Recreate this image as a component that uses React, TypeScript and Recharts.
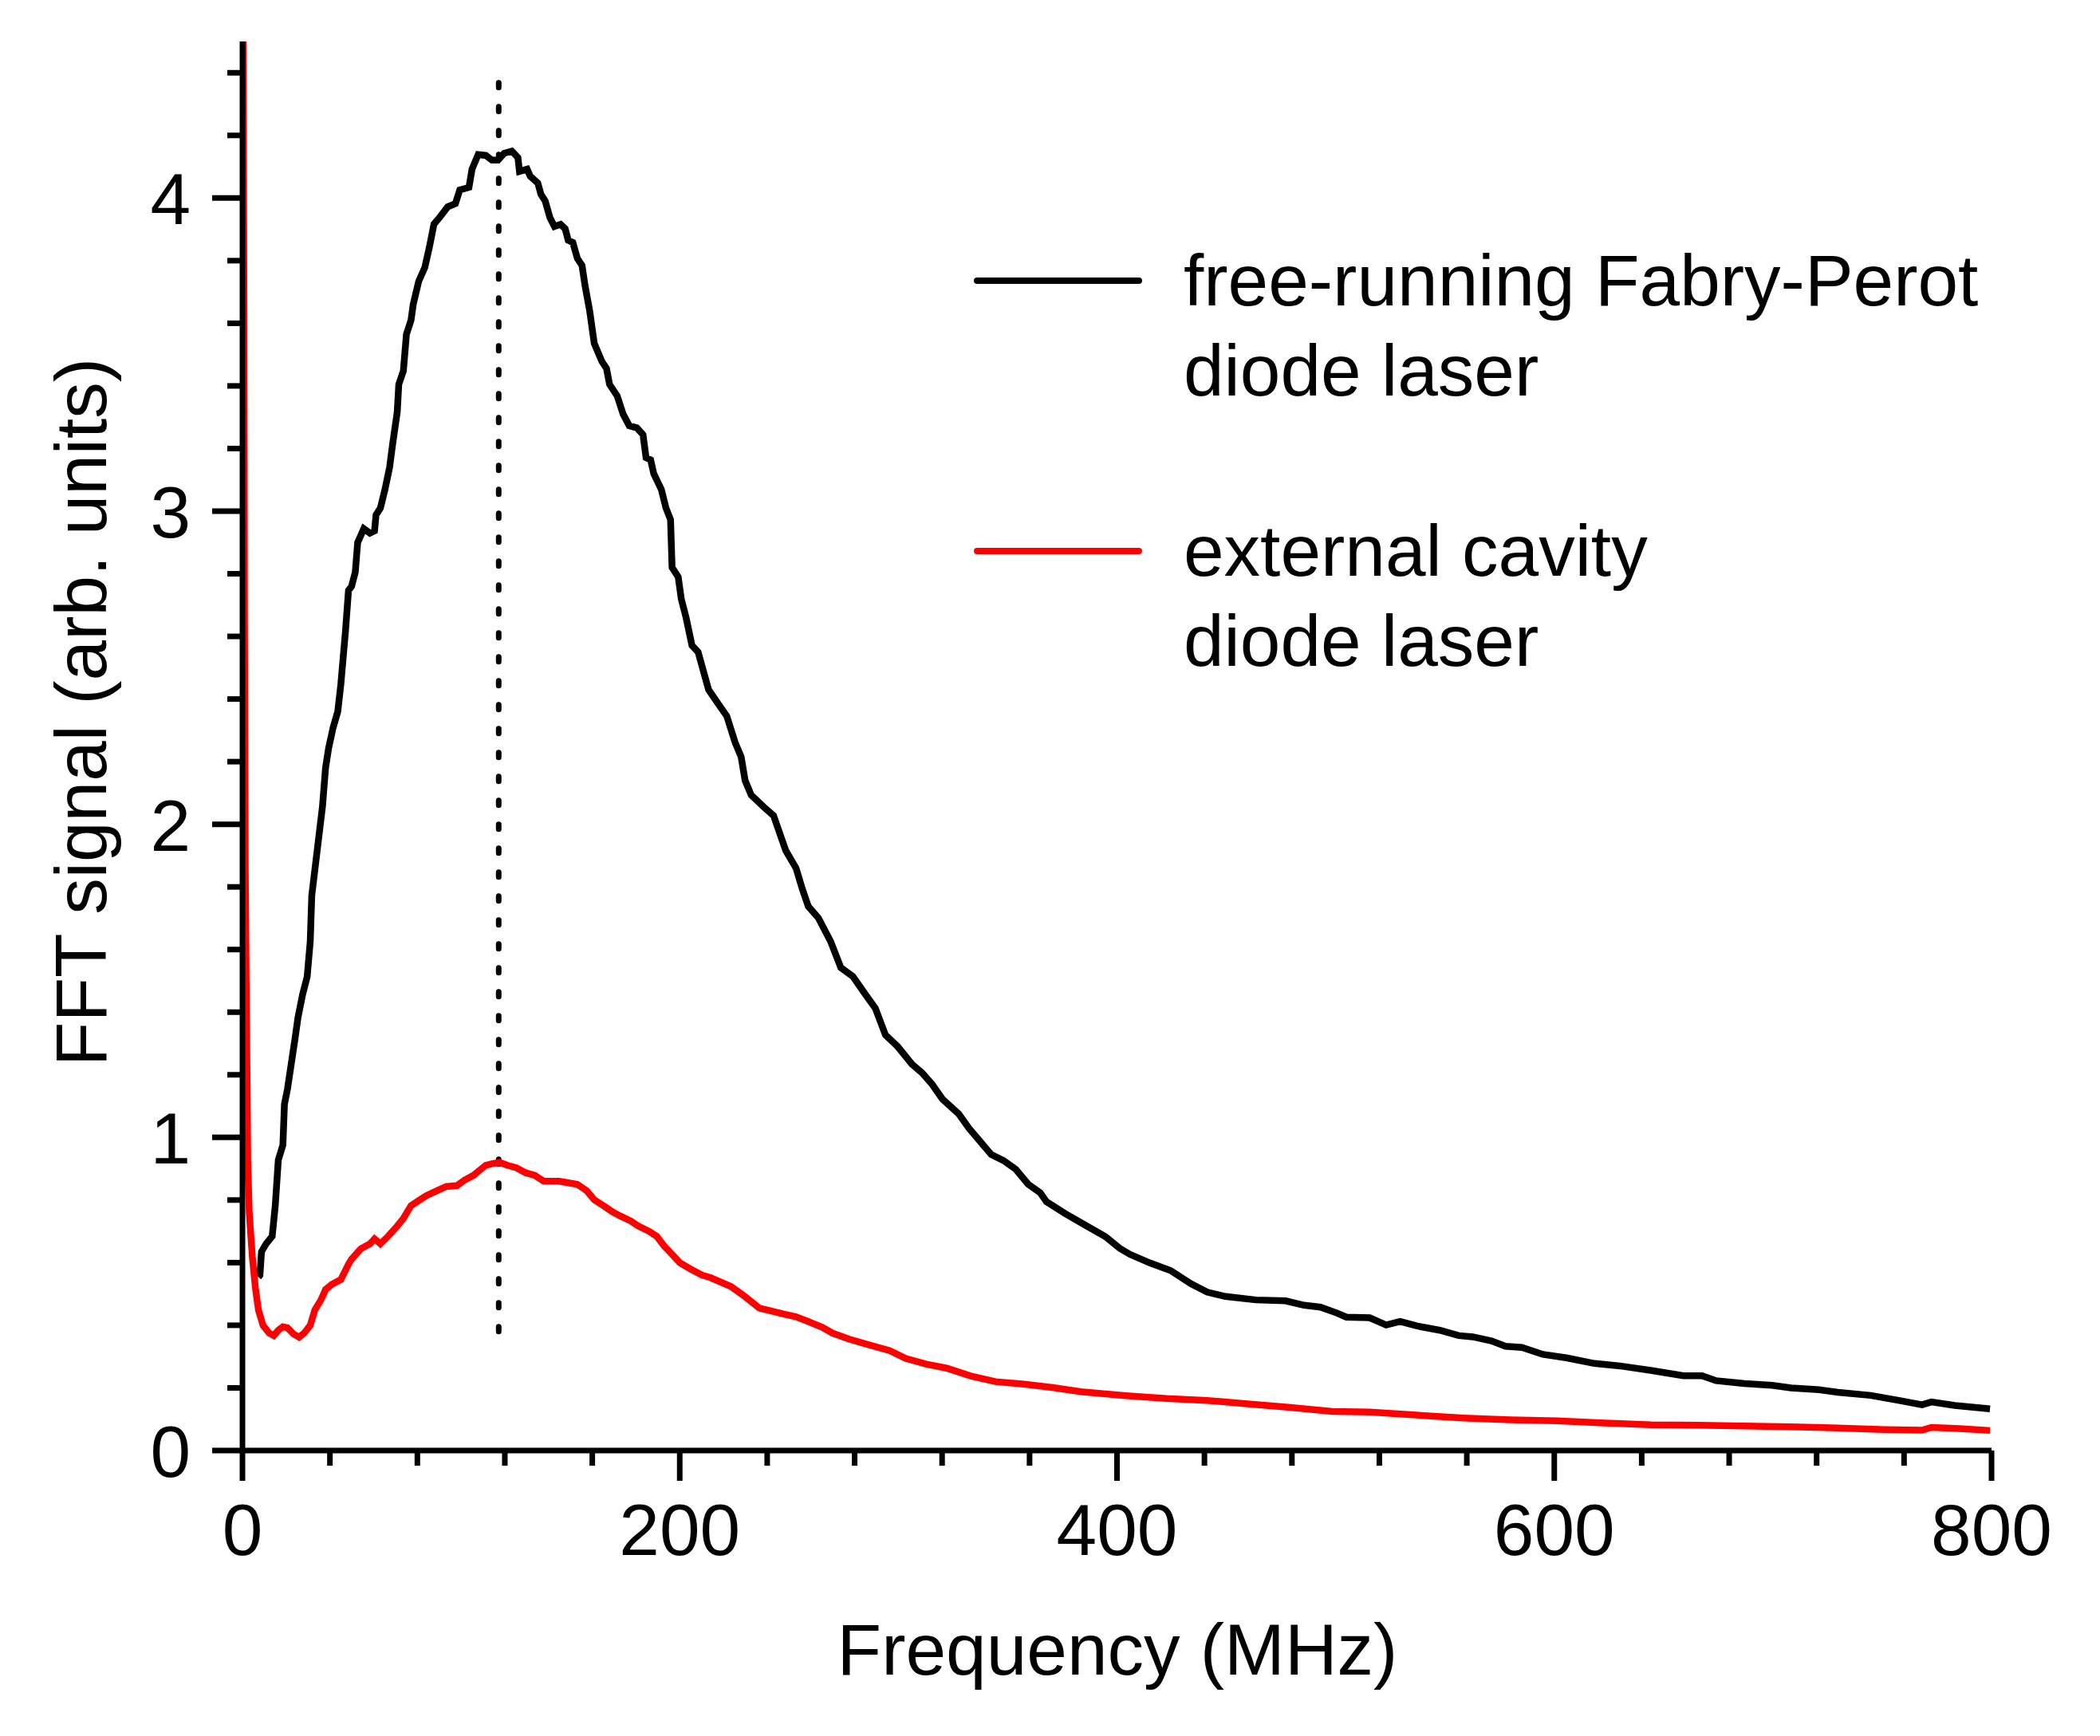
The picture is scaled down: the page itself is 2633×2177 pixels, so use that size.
import React from 'react';
import { LineChart, Line, XAxis, YAxis, ReferenceLine, Legend } from 'recharts';

// Free-running Fabry-Perot diode laser (black)
const freqFP = [
  7.3, 8.0, 8.7, 10.8, 13.6, 15.0, 16.4, 18.5, 19.2, 20.6, 22.0, 24.1, 25.4, 27.5, 29.6, 31.0, 31.7, 33.1, 34.5, 36.6,
  38.0, 39.4, 41.5, 43.6, 45.0, 47.1, 48.5, 49.9, 51.6, 52.7, 55.5, 58.3, 60.4, 61.1, 63.1, 65.2, 67.3, 68.7, 70.8, 71.5,
  73.6, 75.0, 77.1, 78.1, 80.6, 83.4, 85.5, 87.6, 90.4, 93.9, 97.4, 99.4, 103.6, 105.0, 107.8, 111.3, 114.1, 116.9, 119.7, 123.2,
  126.0, 126.7, 130.2, 131.6, 135.1, 136.5, 138.5, 140.6, 142.7, 145.5, 147.6, 149.0, 151.1, 153.2, 155.3, 156.7, 158.8, 160.9, 164.4, 166.5,
  167.9, 171.4, 174.1, 176.9, 180.4, 183.2, 184.6, 186.7, 188.1, 191.6, 193.7, 195.8, 196.5, 199.3, 200.7, 202.9, 205.6, 208.4, 213.2, 217.8,
  221.5, 225.3, 228.1, 229.9, 232.7, 238.3, 242.9, 245.7, 248.5, 253.2, 256.0, 258.8, 263.4, 269.0, 273.7, 279.2, 284.8, 289.5, 294.1, 299.7,
  306.2, 310.9, 315.5, 320.2, 327.6, 332.3, 336.9, 342.5, 348.1, 353.7, 359.3, 364.9, 367.7, 376.0, 385.4, 394.7, 401.2, 405.8, 415.1, 424.5,
  433.8, 441.2, 449.6, 463.5, 477.1, 485.6, 493.1, 500.6, 504.9, 515.6, 523.1, 529.5, 537.0, 547.7, 556.3, 562.7, 571.3, 577.7, 585.2, 594.8,
  605.5, 618.4, 631.2, 644.1, 659.1, 667.6, 674.0, 686.9, 699.7, 708.3, 721.1, 729.7, 744.7, 757.5, 768.2, 772.5, 783.2, 799.3,
];
const signalFP = [
  0.554, 0.56, 0.635, 0.66, 0.684, 0.782, 0.928, 0.976, 1.106, 1.155, 1.22, 1.318, 1.383, 1.456, 1.513, 1.626, 1.772, 1.854, 1.935, 2.057,
  2.18, 2.243, 2.31, 2.36, 2.447, 2.615, 2.747, 2.76, 2.805, 2.9, 2.944, 2.93, 2.937, 2.988, 3.01, 3.07, 3.14, 3.215, 3.317, 3.405,
  3.448, 3.565, 3.61, 3.66, 3.734, 3.778, 3.843, 3.917, 3.94, 3.972, 3.982, 4.026, 4.034, 4.092, 4.139, 4.136, 4.121, 4.121, 4.143, 4.15,
  4.129, 4.085, 4.092, 4.07, 4.048, 4.012, 3.99, 3.938, 3.909, 3.916, 3.902, 3.865, 3.858, 3.807, 3.785, 3.72, 3.64, 3.536, 3.478, 3.456,
  3.405, 3.368, 3.31, 3.273, 3.266, 3.244, 3.171, 3.164, 3.12, 3.069, 3.01, 2.973, 2.82, 2.79, 2.72, 2.66, 2.571, 2.55, 2.43, 2.383,
  2.346, 2.262, 2.215, 2.14, 2.093, 2.056, 2.028, 1.972, 1.916, 1.86, 1.795, 1.738, 1.701, 1.626, 1.542, 1.514, 1.458, 1.412, 1.327, 1.29,
  1.234, 1.206, 1.169, 1.122, 1.075, 1.029, 0.991, 0.945, 0.926, 0.898, 0.851, 0.823, 0.795, 0.758, 0.72, 0.683, 0.646, 0.627, 0.599, 0.575,
  0.533, 0.506, 0.492, 0.481, 0.478, 0.464, 0.458, 0.439, 0.426, 0.424, 0.401, 0.412, 0.398, 0.384, 0.367, 0.363, 0.35, 0.333, 0.329, 0.307,
  0.296, 0.278, 0.269, 0.256, 0.239, 0.239, 0.223, 0.214, 0.208, 0.2, 0.194, 0.186, 0.176, 0.16, 0.146, 0.155, 0.144, 0.133,
];

// External cavity diode laser (red)
const freqECDL = [
  0.3, 0.7, 0.9, 1.3, 1.7, 2.1, 2.4, 3.1, 4.5, 5.9, 7.3, 9.4, 12.2, 14.3, 16.4, 18.5, 20.6, 23.4, 25.9, 28.2,
  31.0, 33.1, 35.9, 38.0, 40.8, 45.0, 48.5, 49.9, 54.1, 58.3, 60.4, 63.1, 66.6, 70.8, 73.6, 77.1, 80.6, 84.1, 89.0, 93.2,
  98.1, 101.5, 105.7, 108.5, 111.3, 114.1, 117.6, 121.1, 125.3, 129.5, 133.7, 137.8, 144.8, 149.0, 153.2, 157.4, 160.9, 165.1, 169.3, 172.8,
  177.6, 181.1, 186.0, 189.5, 193.0, 196.5, 200.0, 204.8, 210.2, 214.1, 223.4, 229.0, 236.4, 247.6, 253.2, 258.8, 265.3, 269.9, 277.4, 286.7,
  296.0, 303.4, 312.7, 322.1, 333.2, 344.4, 357.4, 370.5, 383.5, 404.0, 422.6, 441.2, 459.8, 478.4, 498.5, 515.6, 532.7, 558.4, 579.8, 601.3,
  622.7, 644.1, 665.5, 686.9, 708.3, 729.7, 751.1, 768.2, 772.5, 785.4, 799.3,
];
const signalECDL = [
  4.5, 3.6, 2.7, 1.85, 1.5, 1.2, 0.93, 0.76, 0.62, 0.52, 0.449, 0.4, 0.375, 0.367, 0.384, 0.395, 0.392, 0.372, 0.362, 0.375,
  0.4, 0.449, 0.481, 0.514, 0.53, 0.546, 0.595, 0.611, 0.644, 0.66, 0.676, 0.66, 0.684, 0.717, 0.741, 0.782, 0.798, 0.814, 0.83, 0.843,
  0.846, 0.863, 0.879, 0.895, 0.911, 0.916, 0.92, 0.911, 0.903, 0.887, 0.879, 0.86, 0.86, 0.855, 0.85, 0.83, 0.801, 0.782, 0.762, 0.749,
  0.733, 0.717, 0.7, 0.684, 0.652, 0.627, 0.6, 0.58, 0.56, 0.552, 0.524, 0.496, 0.455, 0.436, 0.427, 0.412, 0.393, 0.375, 0.356, 0.337,
  0.319, 0.294, 0.276, 0.263, 0.238, 0.22, 0.212, 0.201, 0.188, 0.175, 0.166, 0.16, 0.149, 0.138, 0.125, 0.123, 0.115, 0.104, 0.098, 0.095,
  0.088, 0.082, 0.081, 0.078, 0.076, 0.072, 0.067, 0.065, 0.074, 0.07, 0.064,
];

const xTicks = [0, 40, 80, 120, 160, 200, 240, 280, 320, 360, 400, 440, 480, 520, 560, 600, 640, 680, 720, 760, 800];
const xMajorTicks = [0, 200, 400, 600, 800];
const yTicks = [0, 0.2, 0.4, 0.6, 0.8, 1, 1.2, 1.4, 1.6, 1.8, 2, 2.2, 2.4, 2.6, 2.8, 3, 3.2, 3.4, 3.6, 3.8, 4, 4.2, 4.4];
const yMajorTicks = [0, 1, 2, 3, 4];
const xDomain = [0, 800];
const yDomain = [0, 4.5];

const peakFrequency = 117.2;
const peakMarkerRange = [0.38, 4.41];

const seriesNames = ['free-running Fabry-Perot\ndiode laser', 'external cavity\ndiode laser'];
const xTitle = 'Frequency (MHz)';
const yTitle = 'FFT signal (arb. units)';

const fpData = freqFP.map((f, i) => ({ f, s: signalFP[i] }));
const ecdlData = freqECDL.map((f, i) => ({ f, s: signalECDL[i] }));

const FONT = "'Liberation Sans', Arial, sans-serif";
const FS = 91;
const AXIS_W = 7;
const LINE_W = 8.5;

const isMajor = (list: number[], v: number) => list.some((m) => Math.abs(m - v) < 1e-9);

const XTick = (props: any) => {
  const { x, y, payload } = props;
  const major = isMajor(xMajorTicks, payload.value);
  return (
    <g>
      <line x1={x} x2={x} y1={y} y2={y + (major ? 38 : 19)} stroke="#000" strokeWidth={AXIS_W} />
      {major && (
        <text x={x} y={y + 131} textAnchor="middle" fontFamily={FONT} fontSize={FS} fill="#000">
          {payload.value}
        </text>
      )}
    </g>
  );
};

const YTick = (props: any) => {
  const { x, y, payload } = props;
  const major = isMajor(yMajorTicks, payload.value);
  return (
    <g>
      <line x1={x} x2={x - (major ? 38 : 19)} y1={y} y2={y} stroke="#000" strokeWidth={AXIS_W} />
      {major && (
        <text x={x - 65} y={y + 33} textAnchor="end" fontFamily={FONT} fontSize={FS} fill="#000">
          {payload.value}
        </text>
      )}
    </g>
  );
};

const XTitle = () => (
  <text x={1401} y={2100} textAnchor="middle" fontFamily={FONT} fontSize={FS} fill="#000">
    {xTitle}
  </text>
);

const YTitle = () => (
  <text
    x={133}
    y={893}
    transform="rotate(-90 133 893)"
    textAnchor="middle"
    fontFamily={FONT}
    fontSize={FS}
    fill="#000"
  >
    {yTitle}
  </text>
);

const legendRows = [
  { lineY: 352, textTop: 295 },
  { lineY: 691, textTop: 634 },
];

const LegendContent = (props: any) => {
  const { payload } = props;
  return (
    <div style={{ position: 'relative', width: 0, height: 0 }}>
      {(payload || []).map((entry: any, i: number) => {
        const idx = seriesNames.indexOf(entry.value);
        const r = legendRows[idx >= 0 ? idx : i] || legendRows[0];
        return (
          <React.Fragment key={i}>
            <div
              style={{
                position: 'absolute',
                left: 1221,
                top: r.lineY - LINE_W / 2,
                width: 211,
                height: LINE_W,
                background: entry.color,
                borderRadius: LINE_W / 2,
              }}
            />
            <div
              style={{
                position: 'absolute',
                left: 1484,
                top: r.textTop,
                fontFamily: FONT,
                fontSize: FS,
                lineHeight: '113px',
                whiteSpace: 'pre',
                color: '#000',
              }}
            >
              {entry.value}
            </div>
          </React.Fragment>
        );
      })}
    </div>
  );
};

export default function App() {
  return (
    <div style={{ position: 'absolute', left: 0, top: 0, width: 2633, height: 2177, background: '#fff' }}>
      <LineChart width={2633} height={2177} margin={{ top: 52, right: 136, bottom: 0, left: 0 }}>
        <XAxis
          dataKey="f"
          type="number"
          domain={xDomain}
          ticks={xTicks}
          interval={0}
          allowDataOverflow
          height={358}
          tickSize={0}
          tickMargin={0}
          tickLine={false}
          axisLine={{ stroke: '#000', strokeWidth: AXIS_W }}
          tick={<XTick />}
          label={<XTitle />}
        />
        <YAxis
          type="number"
          domain={yDomain}
          ticks={yTicks}
          interval={0}
          allowDataOverflow
          width={304}
          tickSize={0}
          tickMargin={0}
          tickLine={false}
          axisLine={{ stroke: '#000', strokeWidth: AXIS_W }}
          tick={<YTick />}
          label={<YTitle />}
        />
        <Legend
          content={<LegendContent />}
          wrapperStyle={{ left: 0, top: 0, bottom: 'auto', width: 0, height: 0 }}
        />
        <ReferenceLine
          segment={[
            { x: peakFrequency, y: peakMarkerRange[0] },
            { x: peakFrequency, y: peakMarkerRange[1] },
          ]}
          stroke="#000"
          strokeWidth={7}
          strokeDasharray="6 24"
          strokeLinecap="round"
        />
        <Line
          data={fpData}
          dataKey="s"
          name={seriesNames[0]}
          type="linear"
          stroke="#000000"
          strokeWidth={LINE_W}
          dot={false}
          isAnimationActive={false}
        />
        <Line
          data={ecdlData}
          dataKey="s"
          name={seriesNames[1]}
          type="linear"
          stroke="#ff0000"
          strokeWidth={LINE_W}
          dot={false}
          isAnimationActive={false}
        />
      </LineChart>
    </div>
  );
}
